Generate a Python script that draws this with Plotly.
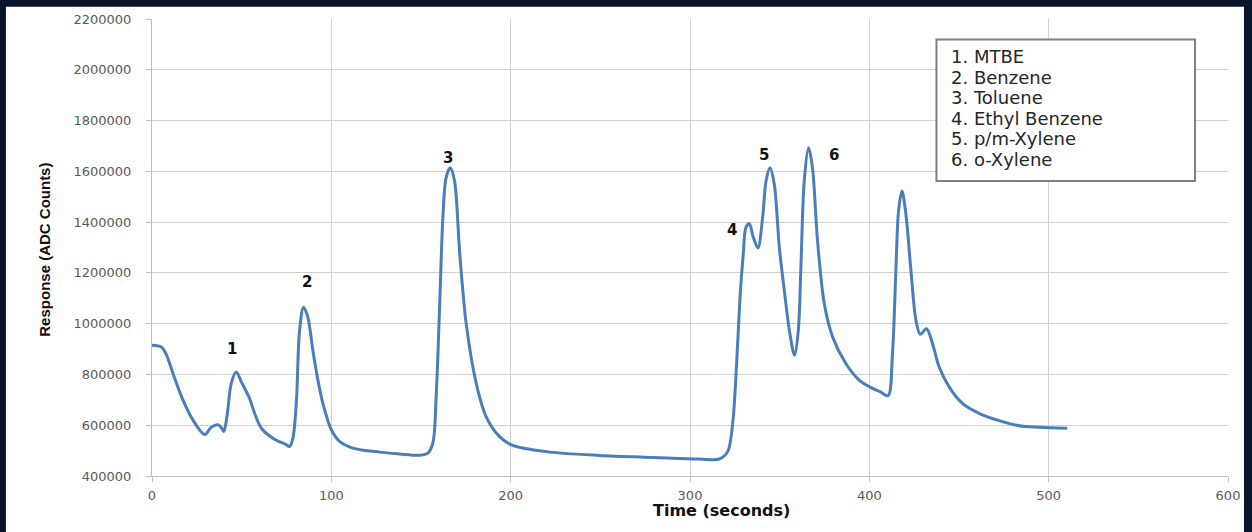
import plotly.graph_objects as go

# ---- data ----
time_s = [0, 5.2, 8, 11.7, 17.3, 22.8, 29.4, 33, 36.8, 38.7, 40, 41.8, 44.2, 47, 49.8, 52.6,
          54.4, 57.2, 61, 67.4, 74.9, 76.7, 78.6, 80.5, 82.3, 84.5, 86.9, 89.7, 92.5, 95.3,
          100, 104.6, 112, 126.9, 138, 149.2, 153.8, 156.6, 158.5, 160.3, 162.2, 164, 166.3,
          168.7, 171.5, 175.2, 180.8, 186.3, 193.8, 200.3, 219.8, 249.5, 280, 305, 316.3,
          321, 323.8, 326, 327.9, 329.7, 331.2, 333.1, 335.3, 337.9, 340.5, 342.4, 344.6,
          347, 349.8, 352.6, 355.4, 358.3, 360.4, 361.9, 363.7, 366.1, 368.3, 371.1, 374.9,
          379.5, 386.9, 394.3, 401.8, 406, 410.4, 412.9, 414.8, 416.3, 418.2, 420.4, 423.2,
          426, 428.4, 431.9, 435.2, 438.9, 444.5, 451.9, 461.2, 472.4, 483.5, 494.7, 510.4]
response = [915000, 908000, 878000, 804000, 699000, 621000, 563000, 592000, 602000, 590000,
            575000, 634000, 765000, 810000, 771000, 732000, 706000, 647000, 588000, 549000,
            523000, 516000, 550000, 690000, 974000, 1065000, 1026000, 895000, 778000, 686000,
            582000, 536000, 510000, 494000, 487000, 482000, 490000, 529000, 720000, 1050000,
            1418000, 1575000, 1614000, 1562000, 1287000, 1000000, 765000, 634000, 555000,
            523000, 496000, 481000, 473000, 467000, 467000, 496000, 608000, 843000, 1104000,
            1274000, 1379000, 1394000, 1340000, 1298000, 1418000, 1562000, 1614000, 1549000,
            1301000, 1130000, 974000, 876000, 974000, 1235000, 1562000, 1693000, 1614000,
            1327000, 1078000, 948000, 843000, 778000, 745000, 732000, 716000, 882000, 1209000,
            1444000, 1523000, 1431000, 1209000, 1013000, 958000, 980000, 922000, 830000,
            751000, 686000, 647000, 618000, 598000, 592000, 588000]

peak_labels = ["1", "2", "3", "4", "5", "6"]
peak_times = [47, 84.5, 166.3, 333.1, 344.6, 366.1]
label_shifts = [(-4, 23), (3, 25), (-2, 10), (-17, -6), (-6, 13), (25, -7)]  # pixel offsets

legend_lines = ["1. MTBE", "2. Benzene", "3. Toluene", "4. Ethyl Benzene",
                "5. p/m-Xylene", "6. o-Xylene"]

x_ticks = [0, 100, 200, 300, 400, 500, 600]
y_ticks = list(range(400000, 2200001, 200000))

# ---- layout geometry (pixels) ----
W, H = 1252, 532
L, R, T, B = 152.3, 1230.0, 17.3, 476.0


def px(x):
    return (x - L) / (R - L)


def py(y):
    return (B - y) / (B - T)


fig = go.Figure()
fig.add_trace(go.Scatter(
    x=time_s, y=response, mode="lines",
    line=dict(color="#4a7ebb", width=3, shape="spline", smoothing=0.9),
    hoverinfo="x+y", showlegend=False,
))

annotations = []
for lab, pt, (dx, dy) in zip(peak_labels, peak_times, label_shifts):
    i = min(range(len(time_s)), key=lambda k: abs(time_s[k] - pt))
    annotations.append(dict(
        x=time_s[i], y=response[i], xref="x", yref="y", text="<b>" + lab + "</b>",
        showarrow=False, xshift=dx, yshift=dy,
        font=dict(family="DejaVu Sans", size=15, color="#111111"),
        xanchor="center", yanchor="middle"))

# legend box lines
line_y = [55, 75.6, 96.2, 116.8, 137.4, 158]
for txt, yy in zip(legend_lines, line_y):
    annotations.append(dict(
        x=px(951), y=py(yy), xref="paper", yref="paper", text=txt, showarrow=False,
        xanchor="left", yanchor="middle",
        font=dict(family="DejaVu Sans", size=18, color="#262626")))

# axis titles
annotations.append(dict(
    x=px(723), y=py(511), xref="paper", yref="paper", text="<b>Time (seconds)</b>",
    showarrow=False, xanchor="center", yanchor="middle",
    font=dict(family="DejaVu Sans", size=16, color="#111111")))
annotations.append(dict(
    x=px(45), y=py(249), xref="paper", yref="paper", text="<b>Response (ADC Counts)</b>",
    showarrow=False, xanchor="center", yanchor="middle", textangle=-90,
    font=dict(family="Liberation Sans", size=15, color="#111111")))

shapes = [
    # white chart area inside the dark frame
    dict(type="rect", xref="paper", yref="paper", x0=px(6), x1=px(1246), y0=py(540), y1=py(5),
         fillcolor="white", line=dict(width=0), layer="below"),
    # legend box
    dict(type="rect", xref="paper", yref="paper", x0=px(938), x1=px(1197), y0=py(180), y1=py(38),
         fillcolor="white", line=dict(color="#7f7f7f", width=2), layer="above"),
]

fig.update_layout(
    width=W, height=H,
    margin=dict(l=L, r=W - R, t=T, b=H - B, pad=0),
    paper_bgcolor="#08142a", plot_bgcolor="white",
    annotations=annotations, shapes=shapes,
    xaxis=dict(range=[0, 600], tickvals=x_ticks, showgrid=True, gridcolor="#d0d0d0",
               gridwidth=1, showline=True, linecolor="#bfbfbf", linewidth=1,
               ticks="outside", ticklen=5, tickcolor="#bfbfbf", zeroline=False,
               tickfont=dict(family="DejaVu Sans", size=13, color="#595959"),
               ticklabelstandoff=2),
    yaxis=dict(range=[400000, 2200000], tickvals=y_ticks, tickformat="d",
               showgrid=True, gridcolor="#d0d0d0", gridwidth=1, showline=True,
               linecolor="#bfbfbf", linewidth=1, ticks="outside", ticklen=5,
               tickcolor="#bfbfbf", zeroline=False,
               tickfont=dict(family="DejaVu Sans", size=13, color="#595959"),
               ticklabelstandoff=12),
)

fig.write_html(
    "out.html",
    config={"displayModeBar": False},
    post_script="document.body.style.margin='0';document.body.style.overflow='hidden';",
)
